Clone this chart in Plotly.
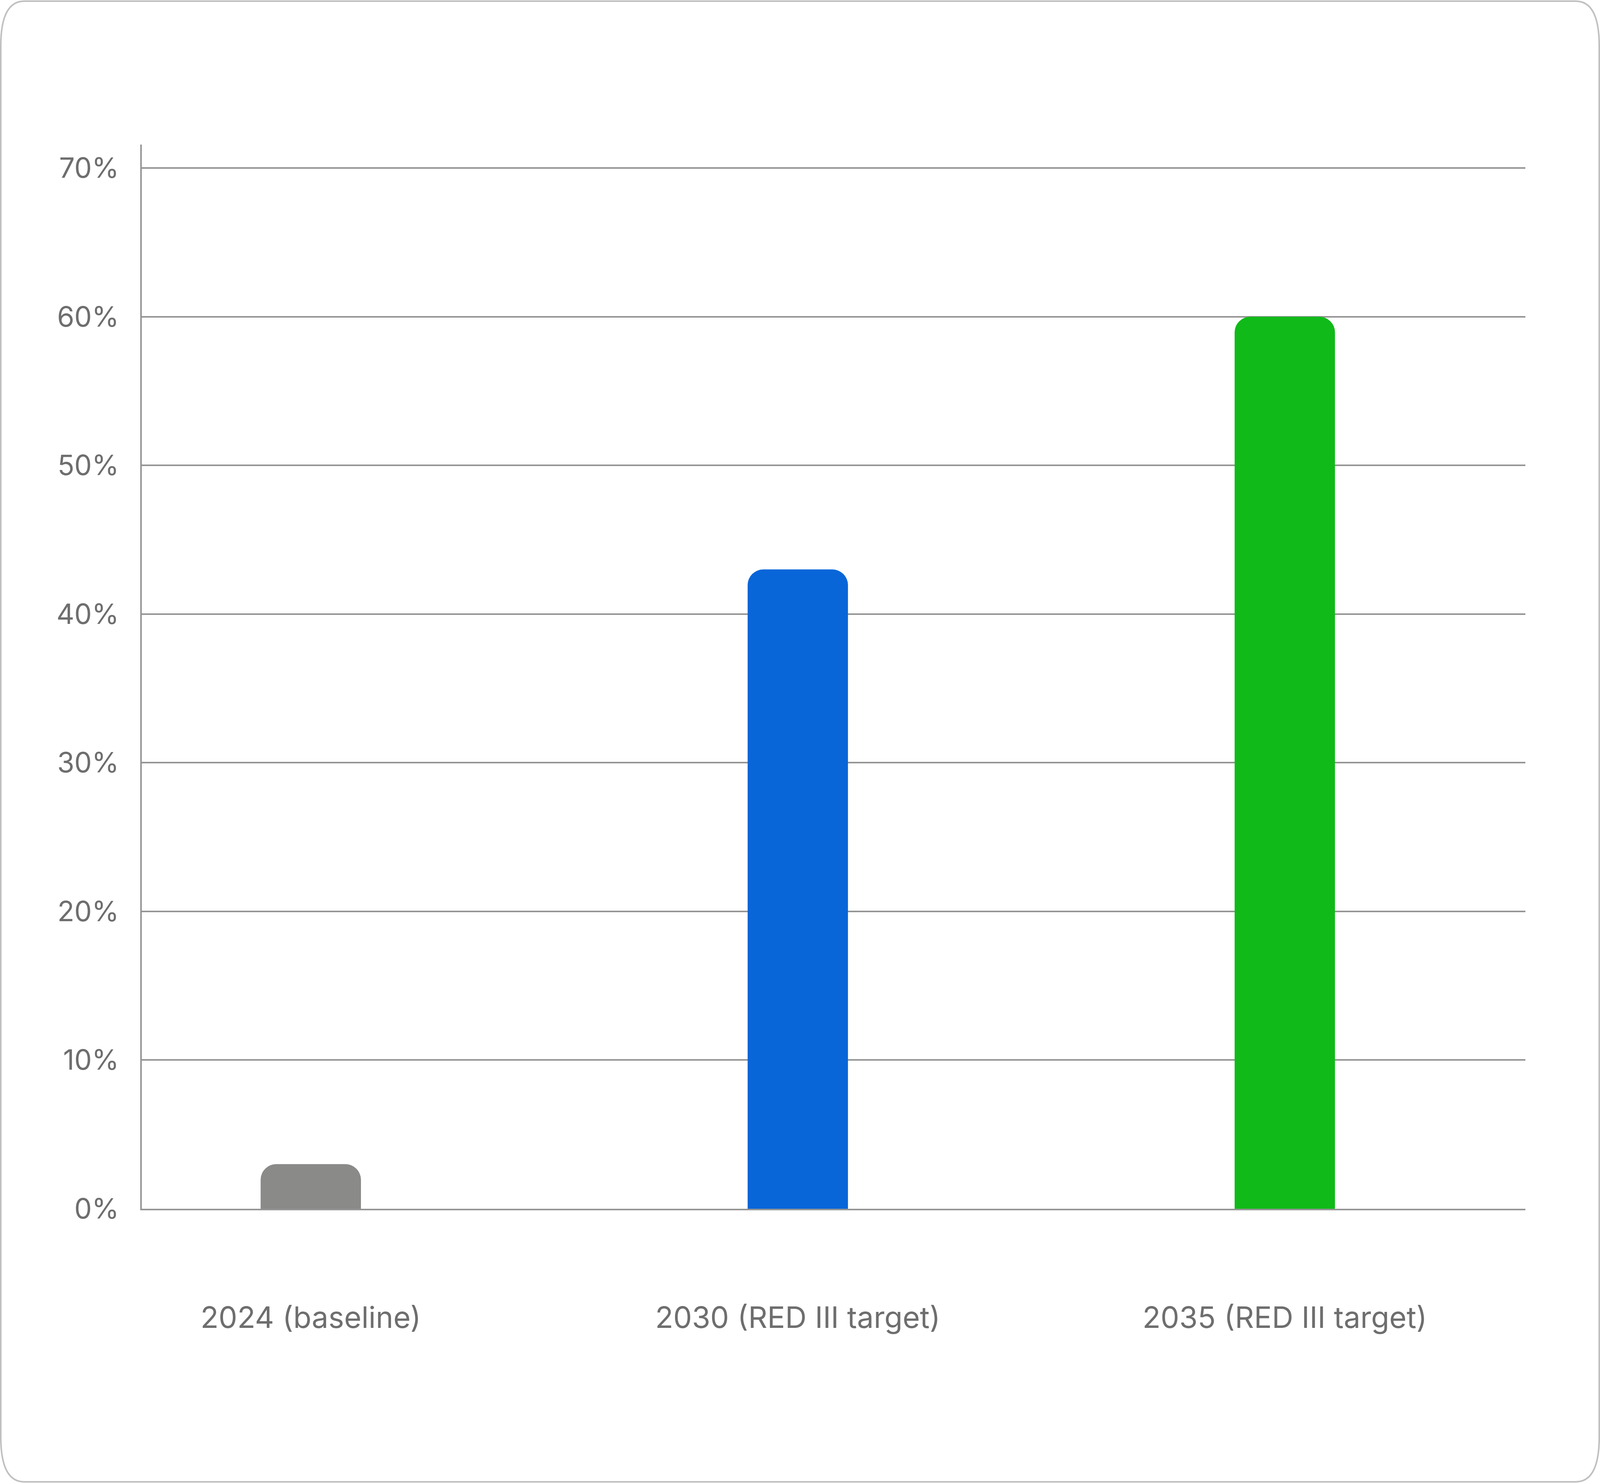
import plotly.graph_objects as go

# Data
categories = ["2024 (baseline)", "2030 (RED III target)", "2035 (RED III target)"]
share_pct = [3, 43, 60]
bar_colors = ["#8a8a88", "#0866d9", "#10ba18"]
y_ticks = [0, 10, 20, 30, 40, 50, 60, 70]
y_tick_text = ["0%", "10%", "20%", "30%", "40%", "50%", "60%", "70%"]

# The browser viewport is 4096 wide, so everything horizontal is scaled
# from the 7820-wide reference; vertical sizes stay as they are.
W, H = 4096, 3796
SX = W / 7820
L, R, T, B = round(693 * SX), round(364 * SX), 370, 702
PW, PH = W - L - R, H - T - B

text_color = "#6e6e6e"
grid_color = "#959595"


def to_paper(px, py):
    return f"{(px - L) / PW:.5f},{1 - (py - T) / PH:.5f}"


def rounded_frame(x0, y0, x1, y1, rx, ry):
    # rounded rectangle outline in pixels, mapped to paper coords
    p = to_paper
    return (
        f"M{p(x0 + rx, y0)} L{p(x1 - rx, y0)} Q{p(x1, y0)} {p(x1, y0 + ry)} "
        f"L{p(x1, y1 - ry)} Q{p(x1, y1)} {p(x1 - rx, y1)} "
        f"L{p(x0 + rx, y1)} Q{p(x0, y1)} {p(x0, y1 - ry)} "
        f"L{p(x0, y0 + ry)} Q{p(x0, y0)} {p(x0 + rx, y0)} Z"
    )


fig = go.Figure(go.Bar(
    x=categories,
    y=share_pct,
    marker=dict(color=bar_colors, cornerradius=40, line=dict(width=0)),
    width=0.206,
    hovertemplate="%{x}: %{y}%<extra></extra>",
    showlegend=False,
))

fig.update_layout(
    width=W,
    height=H,
    margin=dict(l=L, r=R, t=T, b=B, pad=0),
    paper_bgcolor="white",
    plot_bgcolor="white",
    font=dict(family="Inter, 'Noto Sans', sans-serif", color=text_color),
    xaxis=dict(
        type="category",
        range=[-0.347, 2.494],
        showgrid=False,
        showline=True,
        linecolor=grid_color,
        linewidth=4,
        ticks="",
        ticklabelstandoff=210,
        tickfont=dict(size=76, color=text_color),
        fixedrange=True,
    ),
    yaxis=dict(
        range=[0, 71.58],
        tickvals=y_ticks,
        ticktext=y_tick_text,
        showgrid=True,
        gridcolor=grid_color,
        gridwidth=4,
        zeroline=False,
        showline=True,
        linecolor=grid_color,
        linewidth=4,
        ticks="",
        ticklabelstandoff=40,
        tickfont=dict(size=71, color=text_color),
        fixedrange=True,
    ),
    shapes=[dict(
        type="path",
        xref="paper",
        yref="paper",
        path=rounded_frame(2, 3, W - 2, H - 3, 60, 115),
        line=dict(color="#c0c0c0", width=4),
        fillcolor="rgba(0,0,0,0)",
        layer="below",
    )],
)

fig.write_html(
    "out.html",
    config={"displayModeBar": False},
    post_script="document.body.style.margin='0';document.body.style.overflow='hidden';",
)
